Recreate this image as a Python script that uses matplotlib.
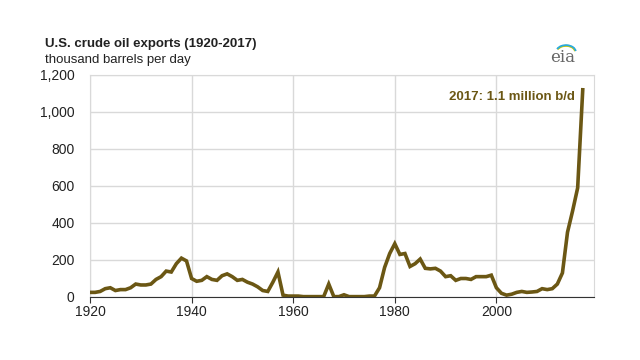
import numpy as np
import matplotlib.pyplot as plt
from matplotlib.patches import Arc

plt.rcParams['font.family'] = ['Liberation Sans', 'DejaVu Sans']

# U.S. crude oil exports, thousand barrels per day
years = list(range(1920, 2018))
exports = [25, 25, 30, 45, 50, 35, 40, 40, 50, 70,
           65, 65, 70, 95, 110, 140, 135, 180, 210, 195,
           100, 85, 90, 110, 95, 90, 115, 125, 110, 90,
           95, 80, 70, 55, 35, 30, 80, 135, 10, 5,
           5, 5, 2, 2, 2, 2, 2, 70, 2, 2,
           12, 2, 2, 2, 2, 5, 5, 50, 160, 235,
           288, 230, 235, 165, 180, 205, 155, 152, 155, 140,
           110, 115, 90, 100, 100, 95, 110, 110, 110, 118,
           50, 20, 10, 15, 25, 30, 25, 27, 30, 45,
           40, 45, 70, 130, 350, 465, 590, 1120]

xticks = [1920, 1940, 1960, 1980, 2000]
yticks = [0, 200, 400, 600, 800, 1000, 1200]

line_color = '#6b5714'
grid_color = '#d9d9d9'

fig = plt.figure(figsize=(6.4, 3.6), dpi=100)
ax = fig.add_axes([0.1406, 0.175, 0.928 - 0.1406, 0.7917 - 0.175])

ax.plot(years, exports, color=line_color, lw=2.6, solid_joinstyle='miter',
        zorder=3)

ax.set_xlim(1920, 2019.2)
ax.set_ylim(0, 1200)
ax.set_xticks(xticks)
ax.set_yticks(yticks)
ax.set_yticklabels([f'{v:,}' for v in yticks])
ax.grid(True, color=grid_color, lw=1)
ax.set_axisbelow(True)
for s in ['top', 'right', 'left']:
    ax.spines[s].set_color(grid_color)
ax.spines['bottom'].set_color('#333333')
ax.spines['bottom'].set_zorder(4)
ax.tick_params(axis='y', length=0, labelsize=10, colors='#222222', pad=11)
ax.tick_params(axis='x', length=4, direction='out', labelsize=10,
               colors='#222222', pad=2, color='#333333')

ax.text(2015.4, 1080, '2017: 1.1 million b/d', ha='right', va='center',
        fontsize=9.5, fontweight='bold', color=line_color)

fig.text(45 / 640, 1 - 44 / 360, 'U.S. crude oil exports (1920-2017)',
         fontsize=9.5, fontweight='bold', color='#222222', va='center')
fig.text(45 / 640, 1 - 60 / 360, 'thousand barrels per day',
         fontsize=9.5, color='#222222', va='center')

# eia logo
fig.text(563 / 640, 1 - 58 / 360, 'eia', fontsize=12, family='DejaVu Serif',
         color='#666666', ha='center', va='center')
for r, c in [(0.0, '#f2c500'), (0.9, '#8dc63f'), (1.8, '#29a9e0')]:
    arc = Arc((566 / 640, 1 - 52 / 360), (18 + r) / 640, (12 + r) / 360,
              theta1=10, theta2=150, color=c, lw=1.2,
              transform=fig.transFigure)
    fig.add_artist(arc)

fig.savefig('out.png', dpi=100)
